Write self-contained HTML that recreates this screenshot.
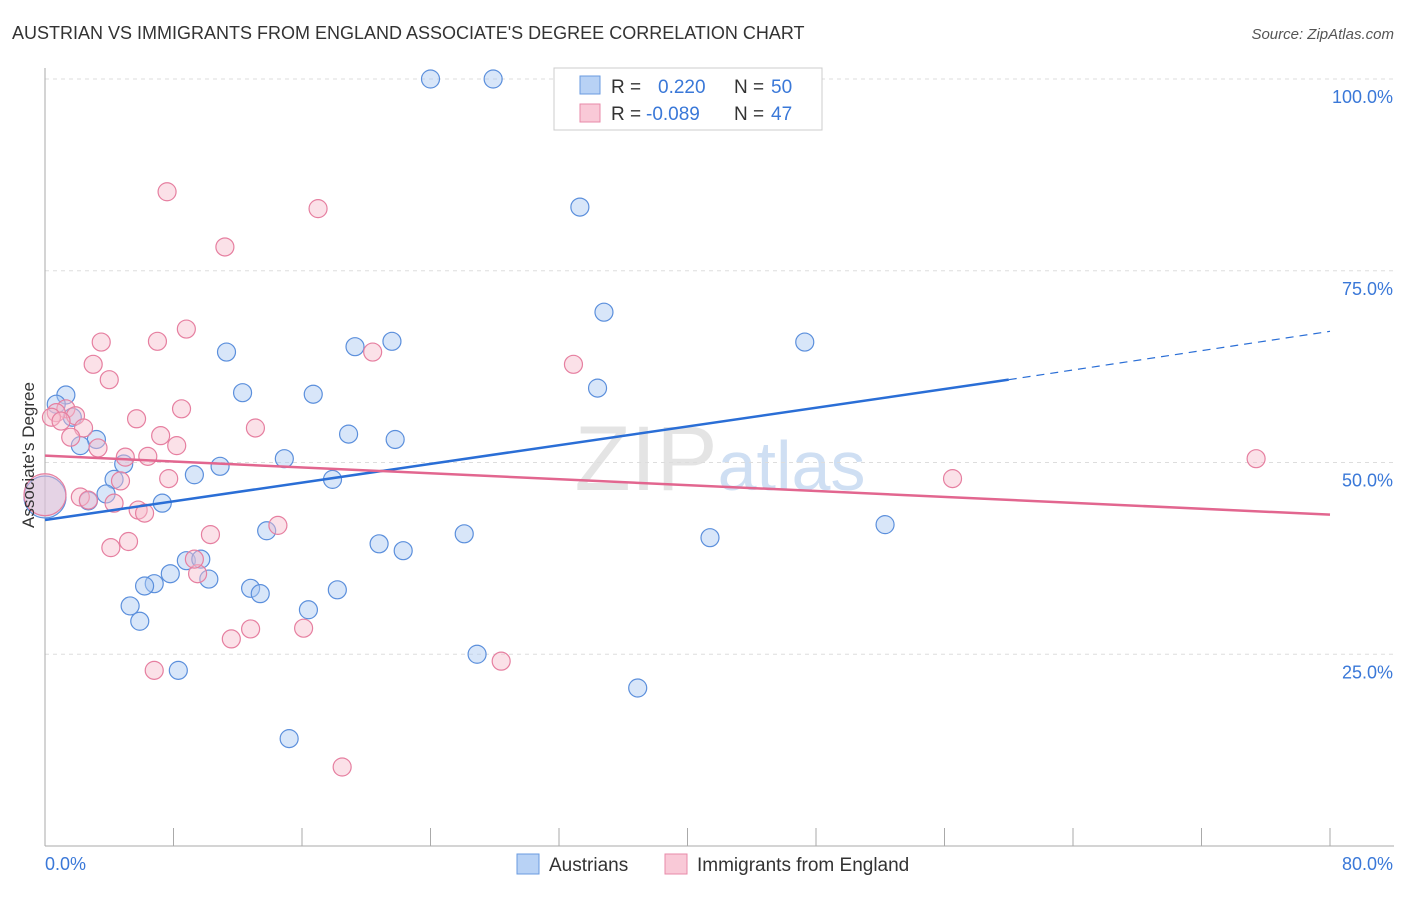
<!DOCTYPE html>
<html><head><meta charset="utf-8"><style>
body{margin:0;background:#fff;font-family:"Liberation Sans",sans-serif;}
svg text{font-family:"Liberation Sans",sans-serif;}
</style></head><body>
<svg id="chart" width="1406" height="892" viewBox="0 0 1406 892" xmlns="http://www.w3.org/2000/svg">
<text x="12" y="39" font-size="18" fill="#333">AUSTRIAN VS IMMIGRANTS FROM ENGLAND ASSOCIATE'S DEGREE CORRELATION CHART</text>
<text x="1394" y="39" font-size="15" fill="#555" text-anchor="end" font-style="italic">Source: ZipAtlas.com</text>
<text x="720" y="490" font-size="92" fill="#e4e4e4" text-anchor="middle" font-family="Liberation Serif">ZIP<tspan fill="#cfdff3" font-family="Liberation Sans" font-size="70">atlas</tspan></text>
<g id="grid"></g>
<g id="axes"></g>
<g id="pts"></g>
<g id="trend"></g>
<text transform="translate(34,455) rotate(-90)" font-size="17" fill="#333" text-anchor="middle">Associate's Degree</text>
<g>
<rect x="554" y="68" width="268" height="62" fill="#fff" stroke="#ccc"/>
<rect x="580" y="76" width="20" height="18" fill="#b8d2f5" stroke="#6a9be0"/>
<text x="611" y="93" font-size="19" fill="#333">R =</text>
<text x="658" y="93" font-size="19" fill="#3a78d8">0.220</text>
<text x="734" y="93" font-size="19" fill="#333">N =</text>
<text x="771" y="93" font-size="19" fill="#3a78d8">50</text>
<rect x="580" y="104" width="20" height="18" fill="#f9c9d7" stroke="#e88aa8"/>
<text x="611" y="120" font-size="19" fill="#333">R =</text>
<text x="646" y="120" font-size="19" fill="#3a78d8">-0.089</text>
<text x="734" y="120" font-size="19" fill="#333">N =</text>
<text x="771" y="120" font-size="19" fill="#3a78d8">47</text>
</g>
<g>
<rect x="517" y="854" width="22" height="20" fill="#b8d2f5" stroke="#6a9be0"/>
<text x="549" y="871" font-size="19" fill="#333">Austrians</text>
<rect x="665" y="854" width="22" height="20" fill="#f9c9d7" stroke="#e88aa8"/>
<text x="697" y="871" font-size="19" fill="#333">Immigrants from England</text>
</g>
</svg>
<script>
const blueX=[24.0,27.9,33.3,34.8,47.3,11.3,19.3,21.6,34.4,12.3,16.7,1.3,0.7,1.7,18.9,21.8,3.2,2.2,4.9,14.9,10.9,4.3,9.3,17.9,3.8,2.7,7.3,52.3,13.8,26.1,41.4,20.8,22.3,8.8,9.7,7.8,10.2,6.8,6.2,12.8,13.4,18.2,5.3,16.4,5.9,26.9,8.3,36.9,15.2,0];
const blueY=[100,100,83.3,69.6,65.7,64.4,65.1,65.8,59.7,59.1,58.9,58.8,57.6,55.9,53.7,53.0,53.0,52.2,49.8,50.5,49.5,47.8,48.4,47.8,45.9,45.0,44.7,41.9,41.1,40.7,40.2,39.4,38.5,37.2,37.4,35.5,34.8,34.2,33.9,33.6,32.9,33.4,31.3,30.8,29.3,25.0,22.9,20.6,14.0,45.5];
const pinkX=[7.6,17.0,11.2,8.8,3.5,7.0,20.4,32.9,3.0,4.0,8.5,1.3,0.7,1.9,0.4,5.7,1.0,2.4,13.1,1.6,7.2,3.3,8.2,5.0,6.4,4.7,7.7,56.5,75.4,2.2,2.7,4.3,5.8,6.2,10.3,14.5,4.1,5.2,9.5,9.3,16.1,12.8,11.6,28.4,6.8,18.5,0];
const pinkY=[85.3,83.1,78.1,67.4,65.7,65.8,64.4,62.8,62.8,60.8,57.0,57.0,56.5,56.1,55.9,55.7,55.4,54.5,54.5,53.3,53.5,51.9,52.2,50.7,50.8,47.6,47.9,47.9,50.5,45.5,45.1,44.7,43.8,43.4,40.6,41.8,38.9,39.7,35.5,37.4,28.4,28.3,27.0,24.1,22.9,10.3,45.8];
const yTicks=[25,50,75,100];
const xTickVals=[0,8,16,24,32,40,48,56,64,72,80];
const blueTrend=[0,42.5,60,60.8];const blueTrendEnd=[80,67.1];
const pinkTrend=[0,50.9,80,43.2];
const X=v=>45+v/80*1285, Y=v=>846-v/100*767;
const NS="http://www.w3.org/2000/svg";
function mk(t,a,p){const e=document.createElementNS(NS,t);for(const k in a)e.setAttribute(k,a[k]);p.appendChild(e);return e;}
const grid=document.getElementById('grid'),axes=document.getElementById('axes'),pts=document.getElementById('pts'),tr=document.getElementById('trend');
yTicks.forEach(v=>{const l=mk('line',{x1:45,x2:1394,y1:Y(v),y2:Y(v),stroke:'#ddd','stroke-dasharray':'4 4'},grid);


const t=mk('text',{x:1393,y:Y(v)+24,'font-size':18,fill:'#3a78d8','text-anchor':'end'},axes);t.textContent=v.toFixed(1)+'%';

});
const ya=mk('line',{x1:45,x2:45,y1:68,y2:846,stroke:'#aaa'},axes);


const xa=mk('line',{x1:45,x2:1394,y1:846,y2:846,stroke:'#aaa'},axes);


xTickVals.forEach(v=>{const l=mk('line',{x1:X(v),x2:X(v),y1:828,y2:846,stroke:'#aaa'},axes);

});
[[0,'start',45],[80,'end',1393]].forEach(([v,a,x])=>{const t=mk('text',{x:x,y:870,'font-size':18,fill:'#3a78d8','text-anchor':a},axes);t.textContent=v.toFixed(1)+'%';

});
function dots(xs,ys,fill,stroke,name){xs.forEach((x,i)=>{const big=i===xs.length-1;const c=mk('circle',{cx:X(x),cy:Y(ys[i]),r:big?21:9,fill:fill,'fill-opacity':0.45,stroke:stroke,'stroke-width':1.2},pts);

});}
dots(blueX,blueY,'#a9c8f2','#5b8fdc','austrian-point');
dots(pinkX,pinkY,'#f7bccd','#e67fa0','england-point');
const bl=mk('line',{x1:X(blueTrend[0]),y1:Y(blueTrend[1]),x2:X(blueTrend[2]),y2:Y(blueTrend[3]),stroke:'#2a6ed6','stroke-width':2.5},tr);


const bd=mk('line',{x1:X(blueTrend[2]),y1:Y(blueTrend[3]),x2:X(blueTrendEnd[0]),y2:Y(blueTrendEnd[1]),stroke:'#2a6ed6','stroke-width':1.2,'stroke-dasharray':'8 6'},tr);


const pl=mk('line',{x1:X(pinkTrend[0]),y1:Y(pinkTrend[1]),x2:X(pinkTrend[2]),y2:Y(pinkTrend[3]),stroke:'#e2668f','stroke-width':2.5},tr);


</script>
</body></html>
